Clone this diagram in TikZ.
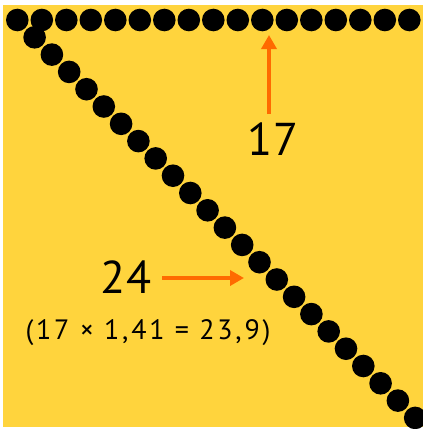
\documentclass[tikz,border=0pt]{standalone}
\usepackage{fontspec}
\setmainfont{PT Sans}
\usepackage{xcolor}
\usepackage{tikz}
\usetikzlibrary{arrows.meta}

\definecolor{bgyellow}{HTML}{FFD43D}
\definecolor{ptrorange}{HTML}{FF6A00}

\begin{document}
\begin{tikzpicture}[
  x=1pt, y=-1pt,
  dot/.style={circle, fill=black, inner sep=0pt, minimum size=22.6pt},
  biglbl/.style={inner sep=0pt, font=\fontsize{46}{50}\selectfont},
  smalllbl/.style={inner sep=0pt, font=\fontsize{28}{30}\selectfont\addfontfeatures{LetterSpace=10}},
  ptr/.style={-{Triangle[length=14pt,width=15pt]}, line width=4pt, ptrorange}
]

% -- canvas ---------------------------------------------
\useasboundingbox (0,0) rectangle (423,429);
\fill[bgyellow] (3,5) rectangle (423,427);

% -- dots: top row and diagonal ---------------------------
\foreach \i in {0,...,16}
  \node[dot] (top\i) at ({17.3+24.5*\i},20) {};
\foreach \i in {1,...,23}
  \node[dot] (diag\i) at ({17.3+17.3*\i},{20+17.3*\i}) {};

% -- labels ---------------------------------------------
\node[biglbl]   (seventeen) at (273,139) {17};
\node[biglbl]   (twentyfour) at (126,277) {24};
\node[smalllbl] (ratio) at (148,333) {(17 × 1,41 = 23,9)};

% -- pointers -------------------------------------------
\coordinate (upbase) at (269,114);
\coordinate (uptip)  at (269,35);
\coordinate (rtbase) at (162,278);
\coordinate (rttip)  at (244,278);
\draw[ptr] (upbase) -- (uptip);
\draw[ptr] (rtbase) -- (rttip);

\end{tikzpicture}
\end{document}
